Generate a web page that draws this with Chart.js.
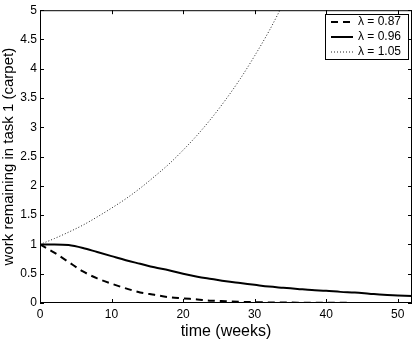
<!DOCTYPE html>
<html>
<head>
<meta charset="utf-8">
<script src="https://cdn.jsdelivr.net/npm/chart.js@4/dist/chart.umd.min.js"></script>
<style>
  body { margin: 0; background: #fff; }
  canvas { display: block; }
</style>
</head>
<body>
<canvas id="chart" width="415" height="341"></canvas>
<script>
// weeks sampled every 2 weeks
const weeks = [0, 2, 4, 6, 8, 10, 12, 14, 16, 18, 20, 22, 24, 26, 28, 30, 32, 34, 36, 38, 40, 42, 44, 46, 48, 50, 52];
const lambda087 = [1.00, 0.86, 0.70, 0.54, 0.42, 0.33, 0.25, 0.18, 0.14, 0.10, 0.08, 0.06, 0.04, 0.03, 0.02, 0.015, 0.01, 0.008, 0.006, 0.005, 0.004, 0.003, 0.002, 0.002, 0.001, 0.001, 0.001];
const lambda096 = [1.00, 1.00, 0.99, 0.94, 0.87, 0.80, 0.73, 0.67, 0.61, 0.56, 0.50, 0.45, 0.41, 0.37, 0.34, 0.31, 0.28, 0.26, 0.24, 0.22, 0.21, 0.19, 0.18, 0.16, 0.14, 0.13, 0.12];
const lambda105 = [1.00, 1.10, 1.21, 1.33, 1.47, 1.62, 1.78, 1.96, 2.16, 2.37, 2.61, 2.87, 3.16, 3.48, 3.83, 4.22, 4.64, 5.11];
const seriesLabels = ['\u03bb = 0.87', '\u03bb = 0.96', '\u03bb = 1.05'];
const xTicks = [0, 10, 20, 30, 40, 50];

const FONT = '"Liberation Sans", Arial, Helvetica, sans-serif';

function pts(vals) {
    return vals.map((v, i) => ({ x: weeks[i], y: v }));
}

const styles = [
    { borderDash: [7, 5], borderWidth: 2, borderColor: '#000' },
    { borderDash: [], borderWidth: 2, borderColor: '#000' },
    { borderDash: [1, 2], borderWidth: 1, borderColor: '#222' }
];

// box round the plot with ticks pointing inward, MATLAB style
const frame = {
    id: 'frame',
    afterDraw(chart) {
        const { ctx, chartArea: a, scales } = chart;
        ctx.save();
        ctx.strokeStyle = '#000';
        ctx.lineWidth = 1;
        ctx.strokeRect(a.left + 0.5, a.top + 0.5, a.right - a.left - 1, a.bottom - a.top - 1);
        ctx.beginPath();
        xTicks.forEach(t => {
            const px = Math.round(scales.x.getPixelForValue(t)) + 0.5;
            ctx.moveTo(px, a.bottom); ctx.lineTo(px, a.bottom - 4);
            ctx.moveTo(px, a.top); ctx.lineTo(px, a.top + 4);
        });
        scales.y.ticks.forEach(t => {
            const py = Math.round(scales.y.getPixelForValue(t.value)) + 0.5;
            ctx.moveTo(a.left, py); ctx.lineTo(a.left + 4, py);
            ctx.moveTo(a.right, py); ctx.lineTo(a.right - 4, py);
        });
        ctx.stroke();

        // legend box
        const lx = 325, ly = 14, lw = 83, lh = 45;
        ctx.fillStyle = '#fff';
        ctx.fillRect(lx, ly, lw, lh);
        ctx.strokeRect(lx + 0.5, ly + 0.5, lw, lh);
        ctx.font = '12px ' + FONT;
        ctx.textBaseline = 'middle';
        seriesLabels.forEach((lab, i) => {
            const y = ly + 8 + i * 15;
            const s = styles[i];
            ctx.beginPath();
            ctx.setLineDash(s.borderDash);
            ctx.lineWidth = s.borderWidth;
            ctx.strokeStyle = s.borderColor;
            ctx.moveTo(lx + 6, y); ctx.lineTo(lx + 28, y);
            ctx.stroke();
            ctx.setLineDash([]);
            ctx.fillStyle = '#000';
            ctx.fillText(lab, lx + 33, y);
        });
        ctx.restore();
    }
};

new Chart(document.getElementById('chart'), {
    type: 'line',
    data: {
        datasets: [lambda087, lambda096, lambda105].map((vals, i) => Object.assign({
            label: seriesLabels[i],
            data: pts(vals),
            pointRadius: 0,
            fill: false,
            cubicInterpolationMode: 'monotone'
        }, styles[i]))
    },
    options: {
        responsive: false,
        animation: false,
        layout: { padding: { top: 10, right: 3, left: 0, bottom: 0 } },
        plugins: { legend: { display: false }, tooltip: { enabled: false } },
        scales: {
            x: {
                type: 'linear',
                min: 0,
                max: 52,
                afterBuildTicks: s => { s.ticks = xTicks.map(v => ({ value: v })); },
                grid: { display: false, drawTicks: false },
                border: { display: false },
                ticks: { color: '#000', font: { family: FONT, size: 12 }, padding: 4, maxRotation: 0 },
                title: { display: true, text: 'time (weeks)', color: '#000', font: { family: FONT, size: 16 }, padding: { top: 0, bottom: 0 } },
                afterFit: s => { s.height = 38; }
            },
            y: {
                min: 0,
                max: 5,
                ticks: {
                    stepSize: 0.5,
                    color: '#000',
                    font: { family: FONT, size: 12 },
                    padding: 3,
                    callback: v => String(Math.round(v * 10) / 10)
                },
                grid: { display: false, drawTicks: false },
                border: { display: false },
                title: { display: true, text: 'work remaining in task 1 (carpet)', color: '#000', font: { family: FONT, size: 15 }, padding: { top: 0, bottom: 0 } },
                afterFit: s => { s.width = 40; }
            }
        }
    },
    plugins: [frame]
});
</script>
</body>
</html>
